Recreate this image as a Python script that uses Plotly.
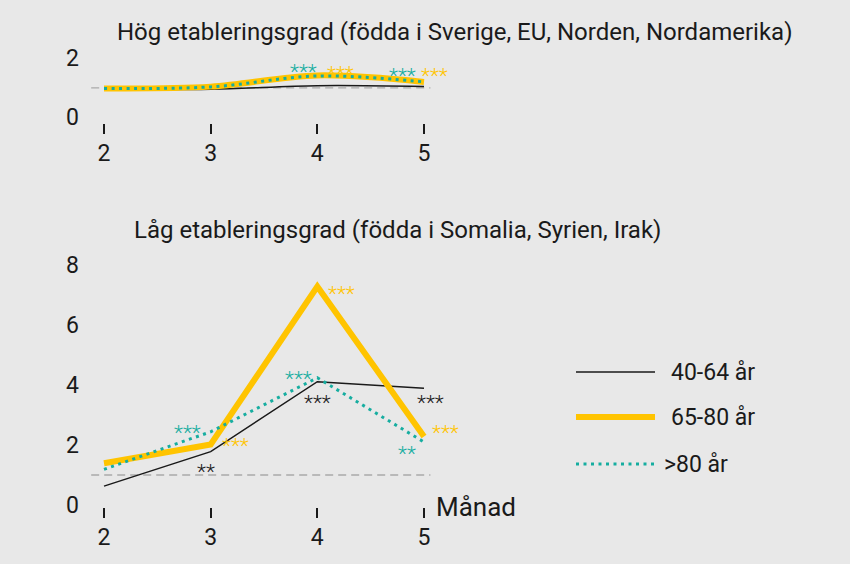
import plotly.graph_objects as go

# Data
months = [2, 3, 4, 5]
series_names = ["40-64 år", "65-80 år", ">80 år"]

hog_40_64 = [0.95, 0.95, 1.07, 1.04]
hog_65_80 = [0.98, 1.04, 1.42, 1.20]
hog_80 = [0.98, 1.03, 1.40, 1.20]

lag_40_64 = [0.63, 1.78, 4.11, 3.89]
lag_65_80 = [1.39, 2.02, 7.28, 2.28]
lag_80 = [1.19, 2.44, 4.24, 2.10]

reference_value = 1

# significance markers: x, y, text, series index
hog_sig_x = [3.87, 4.22, 4.80, 5.10]
hog_sig_y = [1.75, 1.66, 1.62, 1.60]
hog_sig_text = ["***", "***", "***", "***"]
hog_sig_series = [2, 1, 2, 1]

lag_sig_x = [2.78, 3.23, 2.96, 3.82, 4.00, 4.23, 5.06, 5.20, 4.84]
lag_sig_y = [2.60, 2.17, 1.30, 4.40, 3.60, 7.23, 3.60, 2.60, 1.90]
lag_sig_text = ["***", "***", "**", "***", "***", "***", "***", "***", "**"]
lag_sig_series = [2, 1, 0, 2, 0, 1, 0, 1, 2]

title_top = "Hög etableringsgrad (födda i Sverige, EU, Norden, Nordamerika)"
title_bottom = "Låg etableringsgrad (födda i Somalia, Syrien, Irak)"
x_label = "Månad"

COLORS = ["#1a1a1a", "#FFC400", "#16ADA0"]
WIDTHS = [1.5, 6, 3]
DASHES = ["solid", "solid", "3px,4.5px"]
BG = "#e8e8e8"
FONT = "Roboto, Arial"
TXT = "#1a1a1a"

W, H = 850, 564

fig = go.Figure()

top = [hog_40_64, hog_65_80, hog_80]
bottom = [lag_40_64, lag_65_80, lag_80]

for i, ys in enumerate(top):
    fig.add_trace(go.Scatter(
        x=months, y=ys, mode="lines", xaxis="x", yaxis="y",
        line=dict(color=COLORS[i], width=WIDTHS[i], dash=DASHES[i], shape="spline"),
        name=series_names[i], showlegend=False
    ))

for i, ys in enumerate(bottom):
    fig.add_trace(go.Scatter(
        x=months, y=ys, mode="lines", xaxis="x2", yaxis="y2",
        line=dict(color=COLORS[i], width=WIDTHS[i], dash=DASHES[i]),
        name=series_names[i], showlegend=False
    ))

# reference lines at 1
for xref, yref in [("x", "y"), ("x2", "y2")]:
    fig.add_shape(type="line", xref=xref, yref=yref, x0=1.88, x1=5.06,
                  y0=reference_value, y1=reference_value,
                  line=dict(color="#a9a9a9", width=1.3, dash="8px,5px"), layer="below")

annotations = []
for xs, ys, ts, ss, xr, yr in [
    (hog_sig_x, hog_sig_y, hog_sig_text, hog_sig_series, "x", "y"),
    (lag_sig_x, lag_sig_y, lag_sig_text, lag_sig_series, "x2", "y2"),
]:
    for x, y, t, s in zip(xs, ys, ts, ss):
        annotations.append(dict(
            x=x, y=y, xref=xr, yref=yr, text=t, showarrow=False, yshift=-6,
            xanchor="center", yanchor="middle",
            font=dict(family=FONT, size=21, weight=300, color=COLORS[s])
        ))

annotations += [
    dict(text=title_top, x=455 / W, y=1 - 32 / H, xref="paper", yref="paper",
         xanchor="center", yanchor="middle",
         showarrow=False, font=dict(family=FONT, size=24, color=TXT)),
    dict(text=title_bottom, x=397 / W, y=1 - 230 / H, xref="paper", yref="paper",
         xanchor="center", yanchor="middle",
         showarrow=False, font=dict(family=FONT, size=24, color=TXT)),
    dict(text=x_label, x=434 / W, y=1 - 507 / H, xref="paper", yref="paper",
         xanchor="left", yanchor="middle", showarrow=False,
         font=dict(family=FONT, size=26, color=TXT)),
]

# legend drawn by hand to get long line samples
leg_y = [372, 417, 464]
leg_text_x = [669, 669, 662]
for i, name in enumerate(series_names):
    fig.add_shape(type="line", xref="paper", yref="paper",
                  x0=576 / W, x1=655 / W, y0=1 - leg_y[i] / H, y1=1 - leg_y[i] / H,
                  line=dict(color=COLORS[i], width=WIDTHS[i] if i != 0 else 1.3, dash=DASHES[i]))
    annotations.append(dict(
        text=name, x=leg_text_x[i] / W, y=1 - leg_y[i] / H, xref="paper", yref="paper",
        xanchor="left", yanchor="middle", showarrow=False,
        font=dict(family=FONT, size=23, color=TXT)
    ))

xaxis_common = dict(
    range=[1.8125, 5.525], tickvals=months, showgrid=False, zeroline=False,
    showline=False, ticks="outside", ticklen=10, tickwidth=1.5, tickcolor=TXT,
    automargin=False,
    tickfont=dict(family=FONT, size=23, color=TXT), domain=[84 / W, 480 / W]
)
yaxis_common = dict(
    showgrid=False, zeroline=False, showline=False, ticks="",
    ticklabelstandoff=4, automargin=False,
    tickfont=dict(family=FONT, size=23, color=TXT)
)

fig.update_layout(
    width=W, height=H,
    margin=dict(l=0, r=0, t=0, b=0, autoexpand=False),
    paper_bgcolor=BG, plot_bgcolor=BG,
    showlegend=False,
    xaxis=dict(anchor="y", **xaxis_common),
    yaxis=dict(anchor="x", range=[-0.18, 2.1], tickvals=[0, 2],
               domain=[1 - 122.6 / H, 1 - 55.35 / H], **yaxis_common),
    xaxis2=dict(anchor="y2", **xaxis_common),
    yaxis2=dict(anchor="x2", range=[-0.06, 8.2], tickvals=[0, 2, 4, 6, 8],
                domain=[1 - 506.8 / H, 1 - 259 / H], **yaxis_common),
    annotations=annotations,
)

fig.write_html("out.html", config={"displayModeBar": False},
               post_script="document.body.style.margin='0';")
